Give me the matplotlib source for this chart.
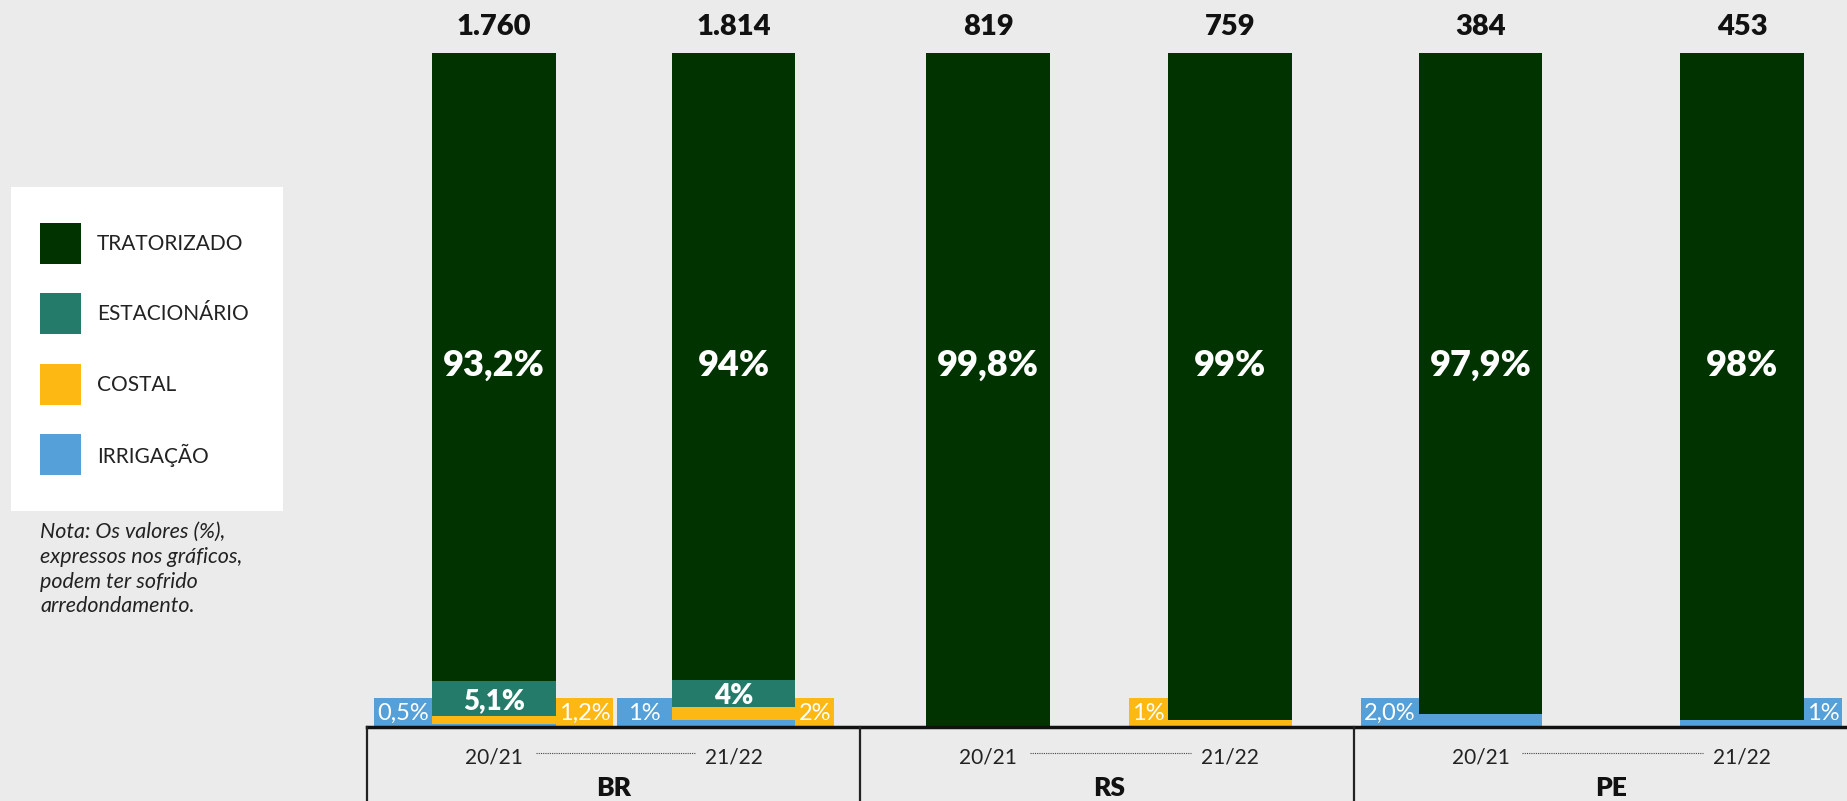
import matplotlib
matplotlib.use("Agg")
import matplotlib.pyplot as plt
from matplotlib.patches import Rectangle
import numpy as np

plt.rcParams['font.family'] = ['Lato', 'DejaVu Sans']

# dados (%)
GROUPS = ["BR", "RS", "PE"]
YEARS = ["20/21", "21/22"]
TOTALS = [1760, 1814, 819, 759, 384, 453]
TRATORIZADO = [93.2, 94, 99.8, 99, 97.9, 98]
ESTACIONARIO = [5.1, 4, 0, 0, 0, 0]
COSTAL = [1.2, 2, 0, 1, 0, 0]
IRRIGACAO = [0.5, 1, 0, 0, 2.0, 1]
DECIMALS = [1, 0, 1, 0, 1, 0]

SERIES = ["TRATORIZADO", "ESTACIONÁRIO", "COSTAL", "IRRIGAÇÃO"]
COLORS = {"TRATORIZADO": "#013301", "ESTACIONÁRIO": "#257b6a",
          "COSTAL": "#fdb813", "IRRIGAÇÃO": "#55a0d8"}
BG = "#ebebeb"

# lado dos rótulos pequenos (-1 esquerda, +1 direita)
SIDE_IRR = [-1, -1, -1, -1, -1, 1]
SIDE_COS = [1, 1, 1, -1, 1, 1]

W, H = 1847, 801
fig = plt.figure(figsize=(W / 100, H / 100), dpi=100, facecolor=BG)

# eixo principal
base_px = 727
top_px = 53
ax = fig.add_axes([367 / W, (H - base_px) / H, 1480 / W, base_px / H])
ax.set_facecolor(BG)
ax.set_xlim(0, 3)
ymax = 100 * base_px / (base_px - top_px)
ax.set_ylim(0, ymax)
ax.axis("off")
px_x = 3 / 1480          # unidades de dados por pixel
px_y = ymax / base_px

# posição das barras em cada grupo
centers = [0.5, 1.504, 2.522]
halfgap = [0.243, 0.245, 0.265]
bw = 0.251
xs = []
for g in range(3):
    xs += [centers[g] - halfgap[g], centers[g] + halfgap[g]]
xs = np.array(xs)

def fmt(v, d):
    return f"{v:.{d}f}".replace(".", ",") + "%"

irr = np.array(IRRIGACAO, float)
cos = np.array(COSTAL, float)
est = np.array(ESTACIONARIO, float)
tra = np.array(TRATORIZADO, float)
tot = irr + cos + est + tra
scale = 100 / tot

b0 = np.zeros(6)
for vals, name in [(irr, "IRRIGAÇÃO"), (cos, "COSTAL"), (est, "ESTACIONÁRIO"), (tra, "TRATORIZADO")]:
    h = vals * scale
    ax.bar(xs, h, bottom=b0, width=bw, color=COLORS[name], linewidth=0)
    if name == "ESTACIONÁRIO":
        for i in range(6):
            if vals[i] > 0:
                ax.text(xs[i], b0[i] + h[i] / 2 - 0.4, fmt(vals[i], DECIMALS[i]), ha="center", va="center",
                        color="white", fontsize=20, fontweight="heavy")
    if name == "TRATORIZADO":
        for i in range(6):
            ax.text(xs[i], 53.7, fmt(vals[i], DECIMALS[i]), ha="center", va="center",
                    color="white", fontsize=26, fontweight="heavy")
    b0 = b0 + h

# rótulos laterais (caixas coloridas ao lado da barra)
renderer = fig.canvas.get_renderer()
box_h = 29
for vals, sides, name in [(irr, SIDE_IRR, "IRRIGAÇÃO"), (cos, SIDE_COS, "COSTAL")]:
    for i in range(6):
        if vals[i] <= 0:
            continue
        s = sides[i]
        edge = xs[i] + s * bw / 2
        t = ax.text(edge, box_h / 2 * px_y, fmt(vals[i], DECIMALS[i]), ha="center", va="center",
                    color="white", fontsize=17, zorder=4)
        tw = t.get_window_extent(renderer=renderer).width
        bwid = tw + 6
        if name == "IRRIGAÇÃO" and s < 0:
            bwid = max(bwid, 55)
        x0 = edge if s > 0 else edge - bwid * px_x
        ax.add_patch(Rectangle((x0, 0), bwid * px_x, box_h * px_y, fc=COLORS[name], ec="none", zorder=3))
        t.set_x(x0 + bwid * px_x / 2)
        t.set_y(box_h / 2 * px_y - 1 * px_y)

# totais
for i in range(6):
    ax.text(xs[i], ymax - 27 * px_y, f"{TOTALS[i]:,}".replace(",", "."), ha="center", va="center",
            fontsize=21, fontweight="heavy", color="#111111")

# painel inferior
axb = fig.add_axes([367 / W, 0, 1480 / W, (H - base_px) / H])
axb.set_facecolor(BG)
axb.set_xlim(0, 3)
axb.set_ylim(H - base_px, 0)
axb.axis("off")
axb.axhline(0, color="#111111", lw=2.5, clip_on=False)
for g in range(3):
    axb.plot([g, g], [0, H - base_px], color="#222222", lw=1.6, clip_on=False)
    axb.text(centers[g], 61, GROUPS[g], ha="center", va="center", fontsize=19, fontweight="heavy", color="#111111")
    for k in range(2):
        axb.text(xs[2 * g + k], 30, YEARS[k], ha="center", va="center", fontsize=15, color="#222222")
    axb.plot([xs[2 * g] + 0.085, xs[2 * g + 1] - 0.079], [26, 26], color="#444444", lw=0.8, ls=(0, (1, 1)))

# legenda
axl = fig.add_axes([0, 0, 1, 1], facecolor="none")
axl.set_xlim(0, W)
axl.set_ylim(H, 0)
axl.axis("off")
axl.add_patch(Rectangle((11, 187), 272, 324, fc="white", ec="none"))
for j, name in enumerate(SERIES):
    yc = 243 + j * 70.5
    axl.add_patch(Rectangle((40, yc - 20.5), 41, 41, fc=COLORS[name], ec="none"))
    axl.text(97, yc + 1, name, ha="left", va="center", fontsize=15, color="#222222")

nota = "Nota: Os valores (%),\nexpressos nos gráficos,\npodem ter sofrido\narredondamento."
axl.text(40, 522, nota, ha="left", va="top", fontsize=15.5, style="italic", color="#222222", linespacing=1.3)

fig.savefig("out.png", dpi=100, facecolor=BG)
